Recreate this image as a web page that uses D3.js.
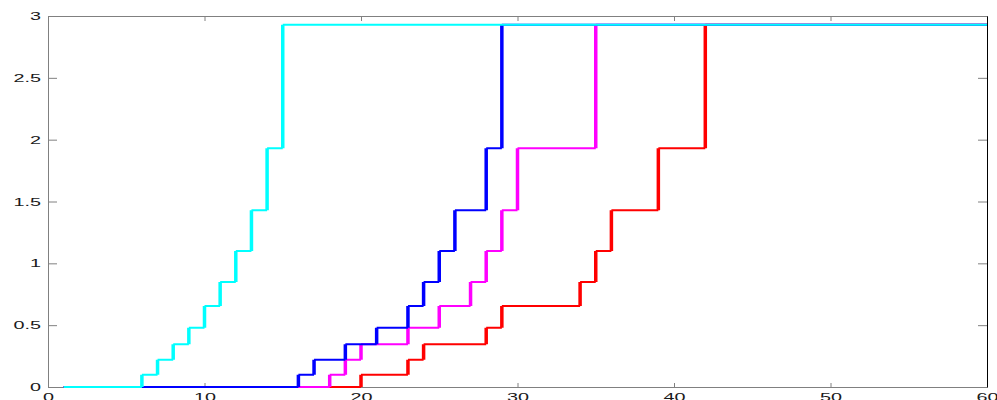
<!doctype html>
<html lang="en">
<head>
    <meta charset="utf-8" />
    <title>D3.js - Stairs</title>
    <script src="https://d3js.org/d3.v7.min.js"></script>
    <style>
        body {
            margin: 0;
            padding: 0;
            background: white;
        }
        .tick text {
            font-family: 'Liberation Sans', Arial, sans-serif;
            font-size: 11px;
            fill: #1a1a1a;
        }
    </style>
</head>
<body>
    <script>
        // Niveles comunes a todas las series (eje y)
        const levels = [0, 0.1, 0.22, 0.345, 0.48, 0.655, 0.85, 1.1, 1.43, 1.93, 2.93];

        // Posición x de cada escalón, por serie
        const redSteps = [20, 23, 24, 28, 29, 34, 35, 36, 39, 42];
        const magentaSteps = [18, 19, 20, 23, 25, 27, 28, 29, 30, 35];
        const blueSteps = [16, 17, 19, 21, 23, 24, 25, 26, 28, 29];
        const cyanSteps = [6, 7, 8, 9, 10, 11, 12, 13, 14, 15];

        const xStart = 1;
        const xEnd = 60;

        const xTicks = [0, 10, 20, 30, 40, 50, 60];
        const yTicks = [0, 0.5, 1, 1.5, 2, 2.5, 3];

        // orden de dibujo: la última queda encima
        const series = [
            { color: '#ff0000', steps: redSteps },
            { color: '#ff00ff', steps: magentaSteps },
            { color: '#0000ff', steps: blueSteps },
            { color: '#00ffff', steps: cyanSteps }
        ];

        const width = 997, height = 400;
        const margin = { top: 16, right: 10, bottom: 13, left: 48 };
        const w = width - margin.left - margin.right;
        const h = height - margin.top - margin.bottom;

        const svg = d3.select('body')
            .append('svg')
            .attr('width', width)
            .attr('height', height);

        const g = svg.append('g')
            .attr('transform', `translate(${margin.left},${margin.top})`);

        const x = d3.scaleLinear().domain([0, 60]).range([0, w]);
        const y = d3.scaleLinear().domain([0, 3]).range([h, 0]);

        const stretch = 1.8;

        // ejes (ticks hacia dentro, estilo matlab)
        const axBottom = g.append('g')
            .attr('transform', `translate(0,${h})`)
            .call(d3.axisBottom(x).tickValues(xTicks).tickFormat(d3.format('d')).tickSizeInner(-4).tickSizeOuter(0).tickPadding(6));
        axBottom.selectAll('text').attr('transform', `scale(${stretch},1)`);

        const axTop = g.append('g')
            .call(d3.axisTop(x).tickValues(xTicks).tickFormat('').tickSizeInner(-5).tickSizeOuter(0));

        const axLeft = g.append('g')
            .call(d3.axisLeft(y).tickValues(yTicks).tickFormat(d => d).tickSizeInner(-9).tickSizeOuter(0).tickPadding(0));
        axLeft.selectAll('text').attr('x', 0).attr('transform', `translate(-7,0) scale(${stretch},1)`);

        const axRight = g.append('g')
            .attr('transform', `translate(${w},0)`)
            .call(d3.axisRight(y).tickValues(yTicks).tickFormat('').tickSizeInner(-9).tickSizeOuter(0));

        [axBottom, axTop, axLeft, axRight].forEach(a => {
            a.selectAll('.tick line').attr('stroke', '#808080');
            a.select('.domain').attr('stroke', '#808080');
        });
        axRight.select('.domain').attr('stroke', '#000');

        // escaleras: tramos horizontales finos, verticales gruesos
        series.forEach(s => {
            const xs = [xStart].concat(s.steps, [xEnd]);
            let hPath = '';
            let vPath = '';
            for (let i = 0; i < xs.length - 1; i++) {
                hPath += `M${x(xs[i])},${y(levels[i])}H${x(xs[i + 1])}`;
                if (i < s.steps.length) {
                    vPath += `M${x(s.steps[i])},${y(levels[i])}V${y(levels[i + 1])}`;
                }
            }
            g.append('path')
                .attr('d', hPath)
                .attr('fill', 'none')
                .attr('stroke', s.color)
                .attr('stroke-width', 2);
            g.append('path')
                .attr('d', vPath)
                .attr('fill', 'none')
                .attr('stroke', s.color)
                .attr('stroke-width', 3.5);
        });
    </script>
</body>
</html>
